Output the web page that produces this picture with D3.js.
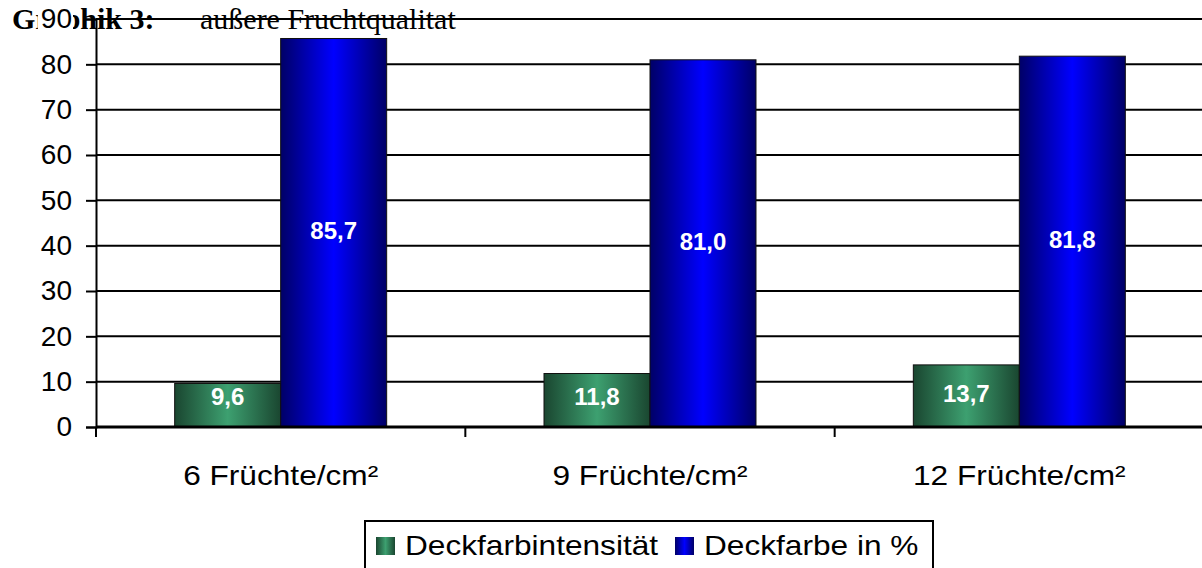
<!DOCTYPE html>
<html>
<head>
<meta charset="utf-8">
<script src="https://cdn.jsdelivr.net/npm/d3@7"></script>
<style>
  body { margin: 0; background: #fff; }
  svg { display: block; }
</style>
</head>
<body>
<div id="chart"></div>
<script>
const width = 1202, height = 568;

// data
const categories = ["6 Früchte/cm²", "9 Früchte/cm²", "12 Früchte/cm²"];
const seriesNames = ["Deckfarbintensität", "Deckfarbe in %"];
const intensity = [9.6, 11.8, 13.7];
const coverPct = [85.7, 81.0, 81.8];
const yTicks = [0, 10, 20, 30, 40, 50, 60, 70, 80, 90];

const seriesValues = [intensity, coverPct];
const rows = categories.map((c, i) => ({ cat: c, values: seriesValues.map(s => s[i]) }));

const plot = { left: 96, right: 1204, top: 19, bottom: 427 };
const stretch = 1.13; // the original is drawn a bit wider than tall

let svg = d3.select("#chart")
  .append("svg")
  .attr("width", width)
  .attr("height", height);

// gradients, dark edges with a bright middle
let defs = svg.append("defs");
const grads = [
  { id: "gGreen", edge: "#1a4630", mid: "#3da070" },
  { id: "gBlue", edge: "#000066", mid: "#0000ff" }
];
grads.forEach(g => {
  let lg = defs.append("linearGradient").attr("id", g.id)
    .attr("x1", "0%").attr("x2", "100%").attr("y1", "0%").attr("y2", "0%");
  lg.append("stop").attr("offset", "0%").attr("stop-color", g.edge);
  lg.append("stop").attr("offset", "50%").attr("stop-color", g.mid);
  lg.append("stop").attr("offset", "100%").attr("stop-color", g.edge);
});

// title sits underneath everything else
let title = svg.append("text")
  .attr("x", 12)
  .attr("y", 29)
  .style("font-family", "'Liberation Serif', 'Times New Roman', serif")
  .style("font-size", "30px")
  .attr("fill", "#000");
title.append("tspan").style("font-weight", "bold").text("Graphik 3:");
title.append("tspan").attr("x", 200).text("außere Fruchtqualitat");

let x0 = d3.scaleBand()
  .domain(categories)
  .range([plot.left, plot.right])
  .paddingInner(0.426)
  .paddingOuter(0.213);

let x1 = d3.scaleBand()
  .domain(d3.range(seriesNames.length))
  .range([0, x0.bandwidth()]);

let y = d3.scaleLinear()
  .domain([0, 90])
  .range([plot.bottom, plot.top]);

// gridlines
svg.append("g")
  .selectAll("line")
  .data(yTicks.filter(t => t > 0))
  .enter().append("line")
  .attr("x1", plot.left)
  .attr("x2", plot.right)
  .attr("y1", d => y(d))
  .attr("y2", d => y(d))
  .attr("stroke", "#000")
  .attr("stroke-width", 2);

// bars
let groups = svg.append("g")
  .selectAll("g")
  .data(rows)
  .enter().append("g")
  .attr("transform", d => "translate(" + x0(d.cat) + ",0)");

groups.selectAll("rect")
  .data(d => d.values.map((v, i) => ({ v: v, i: i })))
  .enter().append("rect")
  .attr("x", d => x1(d.i))
  .attr("y", d => y(d.v))
  .attr("width", x1.bandwidth())
  .attr("height", d => y(0) - y(d.v))
  .attr("fill", d => "url(#" + grads[d.i].id + ")")
  .attr("stroke", "#111")
  .attr("stroke-width", 1);

const fmt = v => d3.format(".1f")(v).replace(".", ",");

groups.selectAll("text")
  .data(d => d.values.map((v, i) => ({ v: v, i: i })))
  .enter().append("text")
  .attr("x", d => x1(d.i) + x1.bandwidth() / 2)
  .attr("y", d => Math.min(y(d.v / 2) - 2, y(0) - 31))
  .attr("text-anchor", "middle")
  .attr("dominant-baseline", "central")
  .style("font-family", "Arial, 'Liberation Sans', sans-serif")
  .style("font-weight", "bold")
  .style("font-size", "24px")
  .attr("fill", "#fff")
  .text(d => fmt(d.v));

// y axis
let yAxis = svg.append("g")
  .attr("transform", "translate(" + plot.left + ",0)")
  .call(d3.axisLeft(y).tickValues(yTicks).tickSize(10).tickPadding(14).tickFormat(d3.format("d")));
yAxis.select(".domain").attr("stroke", "#000").attr("stroke-width", 2);
yAxis.selectAll(".tick line").attr("stroke", "#000").attr("stroke-width", 2);
yAxis.selectAll(".tick text")
  .style("font-family", "Arial, 'Liberation Sans', sans-serif")
  .style("font-size", "28px")
  .attr("fill", "#000");
// white boxes behind the tick labels (the top one hides part of the title)
yAxis.selectAll(".tick").each(function() {
  let t = d3.select(this).select("text");
  let b = t.node().getBBox();
  d3.select(this).insert("rect", "text")
    .attr("x", b.x - 3)
    .attr("y", -16)
    .attr("width", b.width + 4)
    .attr("height", 32)
    .attr("fill", "#fff");
});

// x axis with category separator ticks
let xAxisG = svg.append("g");
xAxisG.append("line")
  .attr("x1", plot.left).attr("x2", plot.right)
  .attr("y1", y(0)).attr("y2", y(0))
  .attr("stroke", "#000").attr("stroke-width", 3);
xAxisG.selectAll("line.sep")
  .data(categories)
  .enter().append("line")
  .attr("class", "sep")
  .attr("x1", d => x0(d) - x0.step() * 0.213)
  .attr("x2", d => x0(d) - x0.step() * 0.213)
  .attr("y1", y(0))
  .attr("y2", y(0) + 10)
  .attr("stroke", "#000")
  .attr("stroke-width", 2);

xAxisG.selectAll("text")
  .data(categories)
  .enter().append("text")
  .attr("transform", d => "translate(" + (x0(d) + x0.bandwidth() / 2) + ",485) scale(" + stretch + ",1)")
  .attr("text-anchor", "middle")
  .style("font-family", "Arial, 'Liberation Sans', sans-serif")
  .style("font-size", "28px")
  .attr("fill", "#000")
  .text(d => d);

// legend
let legend = svg.append("g");
legend.append("rect")
  .attr("x", 365).attr("y", 521)
  .attr("width", 568).attr("height", 70)
  .attr("fill", "#fff")
  .attr("stroke", "#000")
  .attr("stroke-width", 2);

const legendX = [376, 675];
seriesNames.forEach((name, i) => {
  legend.append("rect")
    .attr("x", legendX[i]).attr("y", 537)
    .attr("width", 19).attr("height", 18)
    .attr("fill", "url(#" + grads[i].id + ")");
  legend.append("text")
    .attr("transform", "translate(" + (legendX[i] + 29) + ",555) scale(" + stretch + ",1)")
    .style("font-family", "Arial, 'Liberation Sans', sans-serif")
    .style("font-size", "28px")
    .attr("fill", "#000")
    .text(name);
});
</script>
</body>
</html>
